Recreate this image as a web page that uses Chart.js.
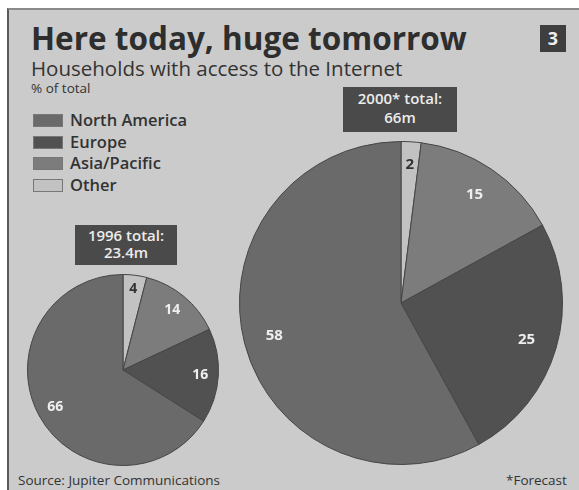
<!DOCTYPE html>
<html>
<head>
<meta charset="utf-8">
<script src="https://cdn.jsdelivr.net/npm/chart.js@4"></script>
<style>
  html, body { margin:0; padding:0; background:#ffffff; width:579px; height:490px; overflow:hidden; font-family:"Open Sans", sans-serif; }
  #frame { position:absolute; left:7px; top:8px; width:580px; height:490px; background:#cbcbcb; border-left:2px solid #5a5a5a; border-top:2px solid #8a8a8a; }
  .abs { position:absolute; white-space:nowrap; }
  #title { left:31px; top:16px; font-size:31.5px; font-weight:700; color:#2e2e2e; }
  #subtitle { left:31px; top:54px; font-size:20.5px; color:#333; }
  #unit { left:31px; top:79px; font-size:13.5px; color:#333; }
  #num { left:540px; top:25px; width:26px; height:27px; background:#3e3e3e; color:#eee; font-weight:700; font-size:18px; text-align:center; line-height:27px; }
  .box { position:absolute; background:#4a4a4a; color:#ececec; font-weight:600; font-size:15px; text-align:center; line-height:17px; padding-top:2px; }
  #legend .row { position:absolute; left:33px; height:16px; }
  #legend .sw { position:absolute; left:0; top:1px; width:30px; height:13px; border:1px solid #777; box-sizing:border-box; }
  #legend .lb { position:absolute; left:37px; top:-5px; font-size:16.5px; font-weight:600; color:#333; white-space:nowrap; }
  #source { left:18px; top:471px; font-size:13.5px; color:#333; }
  #note { left:506px; top:471px; font-size:13.5px; color:#333; }
  canvas { position:absolute; }
</style>
</head>
<body>
<div id="frame"></div>
<div class="abs" id="title">Here today, huge tomorrow</div>
<div class="abs" id="subtitle">Households with access to the Internet</div>
<div class="abs" id="unit">% of total</div>
<div class="abs" id="num">3</div>
<div id="legend"></div>
<div class="box" style="left:75px; top:225px; width:102px; height:38px;">1996 total:<br>23.4m</div>
<div class="box" style="left:343px; top:87px; width:114px; height:43px; line-height:19px;">2000* total:<br>66m</div>
<div class="abs" id="source">Source: Jupiter Communications</div>
<div class="abs" id="note">*Forecast</div>
<div id="c1wrap" style="position:absolute; left:27px; top:274px; width:192px; height:192px;"><canvas id="c1"></canvas></div>
<div id="c2wrap" style="position:absolute; left:239px; top:141px; width:324px; height:324px;"><canvas id="c2"></canvas></div>
<script>
// Categories in drawing order (clockwise from 12 o'clock)
const categories = ["Other", "Asia/Pacific", "Europe", "North America"];
const legendOrder = ["North America", "Europe", "Asia/Pacific", "Other"];
const values1996 = [4, 14, 16, 66];
const values2000 = [2, 15, 25, 58];
const colors = { "North America":"#6a6a6a", "Europe":"#515151", "Asia/Pacific":"#7c7c7c", "Other":"#c2c2c2" };

// legend
const lg = document.getElementById('legend');
legendOrder.forEach((name, i) => {
  const row = document.createElement('div');
  row.className = 'row';
  row.style.top = (113 + i * 21.5) + 'px';
  row.innerHTML = '<div class="sw" style="background:' + colors[name] + '"></div><div class="lb">' + name + '</div>';
  lg.appendChild(row);
});

const labelPlugin = {
  id: 'sliceLabels',
  afterDatasetsDraw(chart) {
    const ctx = chart.ctx;
    const meta = chart.getDatasetMeta(0);
    const data = chart.data.datasets[0].data;
    ctx.save();
    ctx.font = '700 ' + chart.options.plugins.sliceLabels.size + 'px "Open Sans", sans-serif';
    ctx.textAlign = 'center';
    ctx.textBaseline = 'middle';
    meta.data.forEach((arc, i) => {
      const p = arc.getProps(['x','y','startAngle','endAngle','outerRadius'], true);
      const mid = (p.startAngle + p.endAngle) / 2;
      const f = data[i] < 5 ? 0.86 : 0.81;
      const r = p.outerRadius * f;
      ctx.fillStyle = data[i] < 5 ? '#333333' : '#eeeeee';
      ctx.fillText(String(data[i]), p.x + Math.cos(mid) * r, p.y + Math.sin(mid) * r);
    });
    ctx.restore();
  }
};

function makePie(id, values, size) {
  return new Chart(document.getElementById(id), {
    type: 'pie',
    data: {
      labels: categories,
      datasets: [{
        data: values,
        backgroundColor: categories.map(c => colors[c]),
        borderColor: '#454545',
        borderWidth: 1
      }]
    },
    options: {
      responsive: true,
      maintainAspectRatio: false,
      animation: false,
      rotation: 0,
      layout: { padding: 0 },
      plugins: {
        legend: { display: false },
        tooltip: { enabled: false },
        sliceLabels: { size: size }
      }
    },
    plugins: [labelPlugin]
  });
}
makePie('c1', values1996, 14);
makePie('c2', values2000, 15);
</script>
</body>
</html>
